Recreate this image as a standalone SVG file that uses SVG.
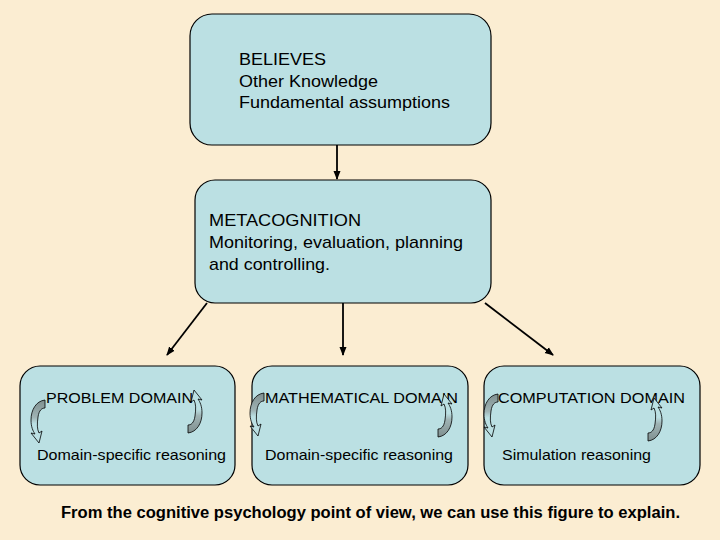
<svg xmlns="http://www.w3.org/2000/svg" width="720" height="540" viewBox="0 0 720 540">
<style>
.box{fill:#bbe0e3;stroke:#000;stroke-width:1.2}
.t{font-family:"Liberation Sans",Arial,sans-serif;font-size:17px;fill:#000}
.s{font-family:"Liberation Sans",Arial,sans-serif;font-size:15px;fill:#000}
.b{font-family:"Liberation Sans",Arial,sans-serif;font-size:16px;font-weight:bold;fill:#000}
.c{stroke:#000;stroke-width:1.8;fill:none}
.ca{fill:url(#g);stroke:#000;stroke-width:0.8}
</style>
<defs>
<linearGradient id="g" x1="0" y1="0" x2="0" y2="1">
<stop offset="0" stop-color="#7f8f8f"/>
<stop offset="0.4" stop-color="#9fb3b4"/>
<stop offset="0.55" stop-color="#bbe0e3"/>
<stop offset="1" stop-color="#bbe0e3"/>
</linearGradient>
<marker id="ah" markerWidth="9" markerHeight="8" refX="8" refY="4" orient="auto" markerUnits="userSpaceOnUse">
<path d="M0,0.5 L9,4 L0,7.5 Z" fill="#000"/>
</marker>
<path id="curl" class="ca" d="M7,-21 C-2,-20 -7,-11 -7,-1 C-7,6 -5,10 -3,13 L-7,12 L1,22 L4,10 L1,12 C-1,8 -1,3 0,-4 C1,-11 4,-13 7,-13 Z"/>
</defs>
<rect width="720" height="540" fill="#fbedd2"/>
<g id="connectors">
<line class="c" x1="337" y1="145" x2="337" y2="179" marker-end="url(#ah)"/>
<line class="c" x1="207" y1="303" x2="167" y2="355" marker-end="url(#ah)"/>
<line class="c" x1="343" y1="303" x2="343" y2="355" marker-end="url(#ah)"/>
<line class="c" x1="485" y1="303" x2="553" y2="355" marker-end="url(#ah)"/>
</g>
<g id="believes">
<rect class="box" x="190" y="14" width="301" height="131" rx="22"/>
<text class="t" x="239" y="65" textLength="87" lengthAdjust="spacingAndGlyphs">BELIEVES</text>
<text class="t" x="239" y="87" textLength="139" lengthAdjust="spacingAndGlyphs">Other Knowledge</text>
<text class="t" x="239" y="108" textLength="211" lengthAdjust="spacingAndGlyphs">Fundamental assumptions</text>
</g>
<g id="metacognition">
<rect class="box" x="195" y="180" width="296" height="123" rx="20"/>
<text class="t" x="209" y="226" textLength="152" lengthAdjust="spacingAndGlyphs">METACOGNITION</text>
<text class="t" x="209" y="248" textLength="254" lengthAdjust="spacingAndGlyphs">Monitoring, evaluation, planning</text>
<text class="t" x="209" y="270" textLength="121" lengthAdjust="spacingAndGlyphs">and controlling.</text>
</g>
<g id="problem">
<rect class="box" x="20" y="366" width="215" height="119" rx="20"/>
<text class="s" x="46" y="403" textLength="147" lengthAdjust="spacingAndGlyphs">PROBLEM DOMAIN</text>
<text class="s" x="37" y="460" textLength="189" lengthAdjust="spacingAndGlyphs">Domain-specific reasoning</text>
<use href="#curl" transform="translate(38,421)"/>
<use href="#curl" transform="translate(195,412) rotate(180)"/>
</g>
<g id="mathematical">
<rect class="box" x="252" y="366" width="216" height="119" rx="20"/>
<text class="s" x="265" y="403" textLength="193" lengthAdjust="spacingAndGlyphs">MATHEMATICAL DOMAIN</text>
<text class="s" x="265" y="460" textLength="188" lengthAdjust="spacingAndGlyphs">Domain-specific reasoning</text>
<use href="#curl" transform="translate(257,414)"/>
<use href="#curl" transform="translate(445,416) rotate(180)"/>
</g>
<g id="computation">
<rect class="box" x="484" y="366" width="216" height="119" rx="20"/>
<text class="s" x="498" y="403" textLength="187" lengthAdjust="spacingAndGlyphs">COMPUTATION DOMAIN</text>
<text class="s" x="502" y="460" textLength="149" lengthAdjust="spacingAndGlyphs">Simulation reasoning</text>
<use href="#curl" transform="translate(491,415)"/>
<use href="#curl" transform="translate(655,420) rotate(180)"/>
</g>
<text class="b" x="61" y="518" textLength="619" lengthAdjust="spacingAndGlyphs">From the cognitive psychology point of view, we can use this figure to explain.</text>
</svg>
